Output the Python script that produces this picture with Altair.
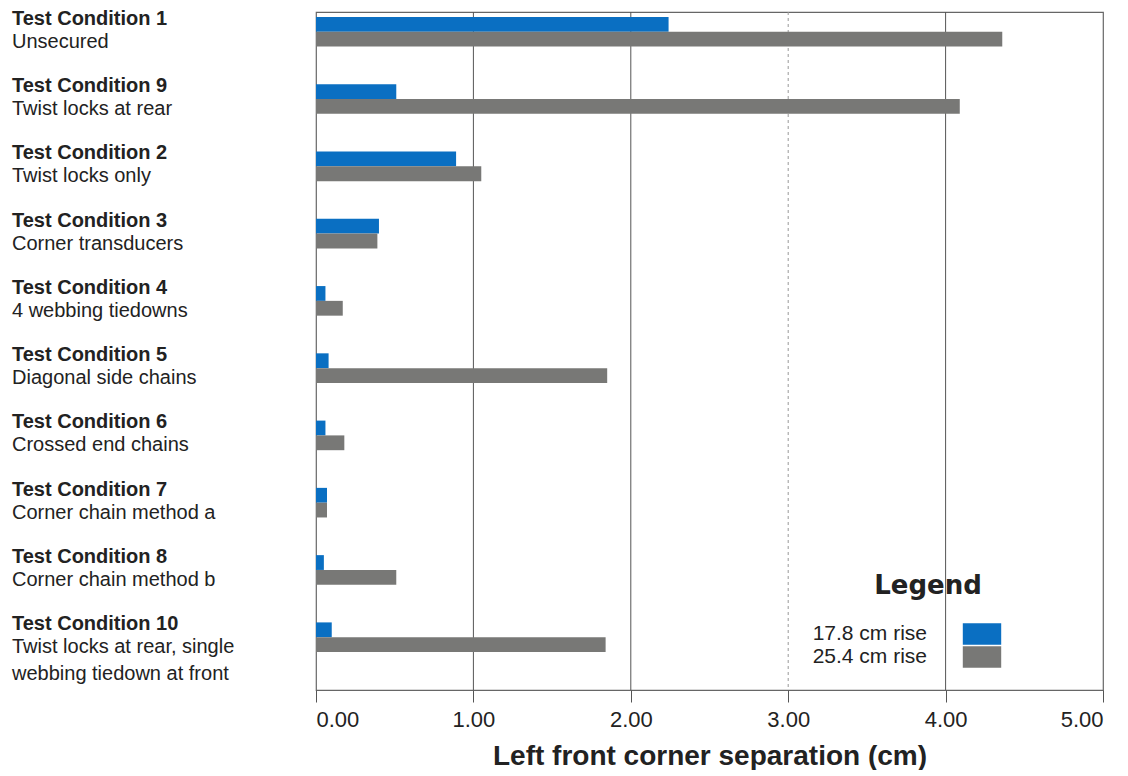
import altair as alt
import pandas as pd

conditions = ["1", "9", "2", "3", "4", "5", "6", "7", "8", "10"]
titles = ["Test Condition 1", "Test Condition 9", "Test Condition 2", "Test Condition 3",
          "Test Condition 4", "Test Condition 5", "Test Condition 6", "Test Condition 7",
          "Test Condition 8", "Test Condition 10"]
subtitles = ["Unsecured", "Twist locks at rear", " Twist locks only", "Corner transducers",
             "4 webbing tiedowns", "Diagonal side chains", " Crossed end chains",
             "Corner chain method a", " Corner chain method b",
             "Twist locks at rear, single\nwebbing tiedown at front"]
series = ["17.8 cm rise", "25.4 cm rise"]
rise_178 = [2.24, 0.51, 0.89, 0.40, 0.06, 0.08, 0.06, 0.07, 0.05, 0.10]
rise_254 = [4.36, 4.09, 1.05, 0.39, 0.17, 1.85, 0.18, 0.07, 0.51, 1.84]
x_ticks = [0, 1, 2, 3, 4, 5]
grid_values = [1, 2, 3, 4]
legend_title = ["Legend"]

rows = []
for c, a, b in zip(conditions, rise_178, rise_254):
    rows.append({"cond": c, "series": series[0], "value": a})
    rows.append({"cond": c, "series": series[1], "value": b})
bars_df = pd.DataFrame(rows)
labels_df = pd.DataFrame({"cond": conditions, "title": titles, "sub": subtitles})
legend_df = pd.DataFrame({"t": legend_title})
grid_df = pd.DataFrame({"g": grid_values})

FONT = "Liberation Sans"

xscale = alt.Scale(domain=[0, 5], nice=False)
yscale = alt.Scale(domain=conditions, paddingInner=0.56, paddingOuter=0, range=[5, 640])

xaxis = alt.Axis(values=x_ticks, format=".2f", title="Left front corner separation (cm)",
                 grid=False,
                 tickSize=12, tickColor="#555555", domain=False,
                 labelFontSize=22, labelFont=FONT, labelColor="#222222",
                 labelPadding=7, titleFontSize=28, titleFont=FONT,
                 titleFontWeight="bold", titleColor="#222222", titlePadding=12)

grid = alt.Chart(grid_df).mark_rule(strokeWidth=1).encode(
    x=alt.X("g:Q", scale=xscale, axis=xaxis),
    color=alt.condition("datum.g == 3", alt.value("#999999"), alt.value("#555555")),
    strokeDash=alt.condition("datum.g == 3", alt.value([3, 3]), alt.value([1, 0])),
)

bars = alt.Chart(bars_df).mark_bar().encode(
    x=alt.X("value:Q", scale=xscale, axis=xaxis),
    y=alt.Y("cond:N", scale=yscale, axis=None),
    yOffset=alt.YOffset("series:N", scale=alt.Scale(domain=series, paddingInner=0, paddingOuter=0)),
    color=alt.Color("series:N",
                    scale=alt.Scale(domain=series, range=["#0a6fc2", "#787876"]),
                    legend=alt.Legend(title=None, orient="none", legendX=654, legendY=610,
                                      labelFontSize=21, labelFont=FONT, labelColor="#222222",
                                      labelAlign="right", labelOffset={"expr": "-67"},
                                      symbolType="M-1.6,-0.9H1.6V0.9H-1.6Z", symbolSize=576,
                                      symbolStrokeWidth=0, symbolOpacity=1, rowPadding=0)),
)

legend_text = alt.Chart(legend_df).mark_text(
    align="center", baseline="middle", fontSize=26, font="DejaVu Sans", fontWeight="bold",
    color="#222222"
).encode(x=alt.value(612), y=alt.value(574), text="t:N")

title_text = alt.Chart(labels_df).mark_text(
    align="left", baseline="middle", dy=-13, fontSize=20, font=FONT, fontWeight="bold",
    color="#222222"
).encode(
    x=alt.value(-304),
    y=alt.Y("cond:N", scale=yscale, axis=None),
    text="title:N",
)

sub_text = alt.Chart(labels_df).mark_text(
    align="left", baseline="top", dy=0, fontSize=20, font=FONT, color="#222222",
    lineBreak="\n", lineHeight=27
).encode(
    x=alt.value(-304),
    y=alt.Y("cond:N", scale=yscale, axis=None),
    text="sub:N",
)

chart = alt.layer(grid, bars, title_text, sub_text, legend_text).properties(
    width=787, height=678,
    padding={"left": 4, "top": 0, "right": 5, "bottom": 0},
).configure(background="white").configure_view(stroke="#666666", strokeWidth=1.2)

chart.save("out.html", embed_options={"renderer": "svg", "actions": False})
